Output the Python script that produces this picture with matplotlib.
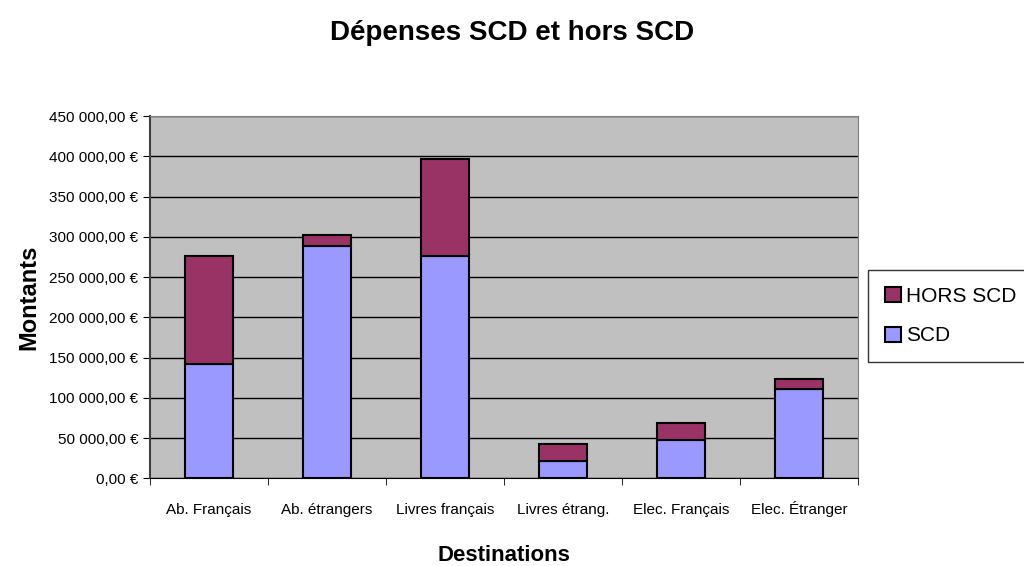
import numpy as np
import matplotlib.pyplot as plt
from matplotlib.ticker import FuncFormatter, MultipleLocator, FixedLocator

plt.rcParams['font.family'] = ['Liberation Sans', 'DejaVu Sans']

categories = ["Ab. Français", "Ab. étrangers", "Livres français", "Livres étrang.",
              "Elec. Français", "Elec. Étranger"]
scd = [142000, 288000, 276000, 21200, 47000, 110600]
hors_scd = [134500, 14500, 121000, 21200, 21600, 12500]


def euro(v, pos):
    s = f"{v:,.2f}".replace(",", " ").replace(".", ",")
    return s + " €"


fig = plt.figure(figsize=(10.24, 5.66), dpi=100)
ax = fig.add_axes([0.1465, 0.155, 0.6915, 0.64])
ax.set_facecolor("#C0C0C0")

x = np.arange(len(categories))
w = 0.41
b1 = ax.bar(x, scd, w, color="#9999FF", edgecolor="black", linewidth=1.5, label="SCD", zorder=3)
b2 = ax.bar(x, hors_scd, w, bottom=scd, color="#993366", edgecolor="black", linewidth=1.5,
            label="HORS SCD", zorder=3)

ax.set_xlim(-0.5, len(categories) - 0.5)
ax.set_ylim(0, 450000)
ax.yaxis.set_major_locator(MultipleLocator(50000))
ax.yaxis.set_major_formatter(FuncFormatter(euro))
ax.grid(axis="y", color="black", linewidth=1, zorder=1)

ax.set_xticks(x)
ax.set_xticklabels(categories, va="baseline")
ax.xaxis.set_minor_locator(FixedLocator(np.arange(-0.5, len(categories), 1.0)))
ax.tick_params(axis="x", which="major", length=0, pad=26, labelsize=11)
ax.tick_params(axis="x", which="minor", length=5, color="black")
ax.tick_params(axis="y", length=5, labelsize=11, color="black")

for side in ["top", "right"]:
    ax.spines[side].set_color("#808080")
ax.spines["left"].set_color("#404040")
ax.spines["left"].set_linewidth(1.5)
ax.spines["bottom"].set_color("black")

ax.set_xlabel("Destinations", fontsize=16, fontweight="bold", labelpad=20)
ax.set_ylabel("Montants", fontsize=17, fontweight="bold", labelpad=6)
fig.suptitle("Dépenses SCD et hors SCD", fontsize=20, fontweight="bold", x=0.5, y=0.965)

leg = fig.legend(handles=[b2, b1], labels=["HORS SCD", "SCD"], loc="upper left",
                 bbox_to_anchor=(0.848, 0.523), borderaxespad=0, frameon=True, fancybox=False,
                 fontsize=15, handlelength=0.75, handleheight=0.75, handletextpad=0.25,
                 borderpad=0.8, labelspacing=1.0)
leg.get_frame().set_edgecolor("black")
leg.get_frame().set_linewidth(1)

fig.savefig("out.png", dpi=100)
